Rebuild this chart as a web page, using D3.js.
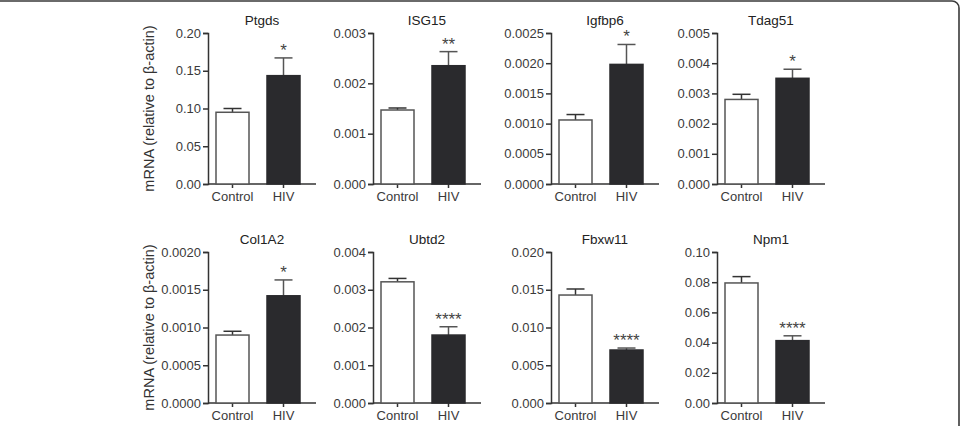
<!DOCTYPE html>
<html>
<head>
<meta charset="utf-8">
<script src="https://cdn.jsdelivr.net/npm/d3@7"></script>
<style>
  body { margin: 0; background: #fff; }
  svg text { font-family: "Liberation Sans", Arial, sans-serif; }
</style>
</head>
<body>
<svg id="chart"></svg>
<script>
// qPCR values, control vs HIV
const genes = ["Ptgds", "ISG15", "Igfbp6", "Tdag51", "Col1A2", "Ubtd2", "Fbxw11", "Npm1"];
const groups = ["Control", "HIV"];
const controlMeans = [0.095, 0.00147, 0.00106, 0.0028, 0.0009, 0.00321, 0.0143, 0.0795];
const controlErrs = [0.005, 0.00004, 0.00009, 0.00017, 0.00005, 0.00009, 0.0008, 0.0042];
const hivMeans = [0.1435, 0.00235, 0.00198, 0.0035, 0.00142, 0.0018, 0.00702, 0.0413];
const hivErrs = [0.0235, 0.00028, 0.00033, 0.0003, 0.00021, 0.00022, 0.00026, 0.0032];
const signif = ["*", "**", "*", "*", "*", "****", "****", "****"];
const yTicks = [
  [0, 0.05, 0.10, 0.15, 0.20],
  [0, 0.001, 0.002, 0.003],
  [0, 0.0005, 0.0010, 0.0015, 0.0020, 0.0025],
  [0, 0.001, 0.002, 0.003, 0.004, 0.005],
  [0, 0.0005, 0.0010, 0.0015, 0.0020],
  [0, 0.001, 0.002, 0.003, 0.004],
  [0, 0.005, 0.010, 0.015, 0.020],
  [0, 0.02, 0.04, 0.06, 0.08, 0.10]
];
const tickFormats = ["0.00", "0.000", "0.0000", "0.000", "0.0000", "0.000", "0.000", "0.00"];
const yLabel = "mRNA (relative to β-actin)";

const width = 961, height = 426;
const axisX = [208, 373, 551, 717];
const rowTop = [33, 252];
const plotH = 151, plotW = 108;

const svg = d3.select("#chart").attr("width", width).attr("height", height);

// outer frame (rounded box, mostly cut off on the left)
svg.append("rect")
  .attr("x", -8).attr("y", 1)
  .attr("width", 967).attr("height", 500)
  .attr("rx", 7)
  .attr("fill", "none")
  .attr("stroke", "#3a3a3a")
  .attr("stroke-width", 1.6);

genes.forEach((gene, i) => {
  const row = Math.floor(i / 4), col = i % 4;
  const g = svg.append("g")
    .attr("transform", `translate(${axisX[col]},${rowTop[row]})`);

  const ticks = yTicks[i];
  const y = d3.scaleLinear().domain([0, ticks[ticks.length - 1]]).range([plotH, 0]);
  const x = d3.scaleBand().domain(groups).range([8, 92]).paddingInner(0.353);

  const dec = tickFormats[i].split(".")[1].length;
  const yAxis = d3.axisLeft(y).tickValues(ticks).tickSize(5).tickPadding(2)
    .tickFormat(d => d.toFixed(dec));
  const ya = g.append("g").call(yAxis);
  ya.select(".domain").attr("stroke", "#333").attr("stroke-width", 1.5);
  ya.selectAll(".tick line").attr("stroke", "#333").attr("stroke-width", 1.5);
  ya.selectAll(".tick text").attr("fill", "#3a3a3a").style("font-size", "13px");

  const xAxis = d3.axisBottom(x).tickSize(4).tickPadding(4).tickSizeOuter(0);
  const xa = g.append("g").attr("transform", `translate(0,${plotH})`).call(xAxis);
  xa.select(".domain").attr("d", `M0,0H${plotW}`).attr("stroke", "#333").attr("stroke-width", 1.5);
  xa.selectAll(".tick line").attr("stroke", "#333").attr("stroke-width", 1.5);
  xa.selectAll(".tick text").attr("fill", "#3a3a3a").style("font-size", "13px");

  const data = [
    { group: "Control", mean: controlMeans[i], err: controlErrs[i] },
    { group: "HIV", mean: hivMeans[i], err: hivErrs[i] }
  ];

  // error bars (upper only)
  data.forEach(d => {
    const cx = x(d.group) + x.bandwidth() / 2;
    const col2 = d.group === "HIV" ? "#555" : "#333";
    g.append("line")
      .attr("x1", cx).attr("x2", cx)
      .attr("y1", y(d.mean)).attr("y2", y(d.mean + d.err))
      .attr("stroke", col2).attr("stroke-width", 1.5);
    g.append("line")
      .attr("x1", cx - 9).attr("x2", cx + 9)
      .attr("y1", y(d.mean + d.err)).attr("y2", y(d.mean + d.err))
      .attr("stroke", col2).attr("stroke-width", 1.5);
  });

  g.selectAll(".bar")
    .data(data)
    .enter()
    .append("rect")
    .attr("class", "bar")
    .attr("x", d => x(d.group))
    .attr("y", d => y(d.mean))
    .attr("width", x.bandwidth())
    .attr("height", d => plotH - y(d.mean))
    .attr("fill", d => d.group === "HIV" ? "#2a2a2d" : "#fff")
    .attr("stroke", d => d.group === "HIV" ? "#2a2a2d" : "#555")
    .attr("stroke-width", 1.5);

  // significance stars over HIV bar
  const hiv = data[1];
  g.append("text")
    .attr("x", x("HIV") + x.bandwidth() / 2)
    .attr("y", y(hiv.mean + hiv.err) - 2)
    .attr("text-anchor", "middle")
    .attr("fill", "#444")
    .style("font-size", "17px")
    .text(signif[i]);

  g.append("text")
    .attr("x", plotW / 2)
    .attr("y", -8)
    .attr("text-anchor", "middle")
    .attr("fill", "#222")
    .style("font-size", "13.5px")
    .text(gene);

  if (col === 0) {
    g.append("text")
      .attr("transform", `translate(-54,${plotH / 2}) rotate(-90)`)
      .attr("text-anchor", "middle")
      .attr("fill", "#333")
      .style("font-size", "14.5px")
      .text(yLabel);
  }
});
</script>
</body>
</html>
